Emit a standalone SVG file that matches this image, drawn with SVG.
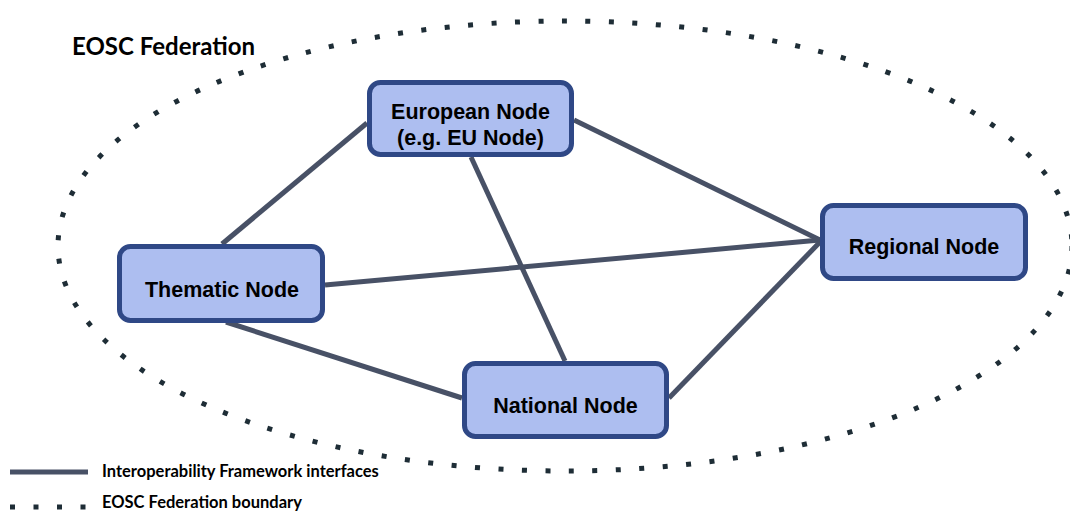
<svg xmlns="http://www.w3.org/2000/svg" width="1070" height="513" viewBox="0 0 1070 513">
<style>
.node rect{fill:#adbef0;stroke:#2f4886;stroke-width:5}
.node text{font-family:"Liberation Sans",Arial,sans-serif;font-weight:bold;font-size:21.5px;fill:#000;text-anchor:middle}
.conn line{stroke:#485166;stroke-width:5;stroke-linecap:butt}
.boundary{fill:none;stroke:#1e2d36;stroke-width:5;stroke-dasharray:5 18.5}
.lbl{font-family:Lato,"Open Sans",sans-serif;font-weight:bold;fill:#000}
</style>
<rect width="1070" height="513" fill="#fff"/>
<ellipse class="boundary" cx="565" cy="246" rx="507" ry="225"/>
<text class="lbl" x="72" y="55" font-size="24">EOSC Federation</text>
<g id="connectors" class="conn">
<line x1="367" y1="123" x2="222" y2="244"/>
<line x1="574" y1="120" x2="820" y2="240"/>
<line x1="471" y1="157" x2="565" y2="361"/>
<line x1="325" y1="285" x2="820" y2="240"/>
<line x1="226" y1="322" x2="462" y2="398"/>
<line x1="669" y1="398" x2="820" y2="242"/>
</g>
<g id="european" class="node">
<rect x="369.5" y="82.5" width="202" height="72" rx="11"/>
<text x="470.5" y="119">European Node</text>
<text x="470.5" y="145">(e.g. EU Node)</text>
</g>
<g id="thematic" class="node">
<rect x="119.5" y="246.5" width="203" height="74" rx="11"/>
<text x="222" y="297">Thematic Node</text>
</g>
<g id="regional" class="node">
<rect x="822.5" y="205.5" width="203" height="73" rx="11"/>
<text x="924" y="254">Regional Node</text>
</g>
<g id="national" class="node">
<rect x="464.5" y="363.5" width="202" height="73" rx="11"/>
<text x="565.5" y="413">National Node</text>
</g>
<g id="legend">
<line x1="10" y1="472" x2="88" y2="472" stroke="#485166" stroke-width="5"/>
<text class="lbl" x="102" y="477" font-size="16.5">Interoperability Framework interfaces</text>
<line x1="10" y1="507" x2="90" y2="507" class="boundary" stroke-dasharray="5 19"/>
<text class="lbl" x="102" y="508" font-size="16.5">EOSC Federation boundary</text>
</g>
</svg>
